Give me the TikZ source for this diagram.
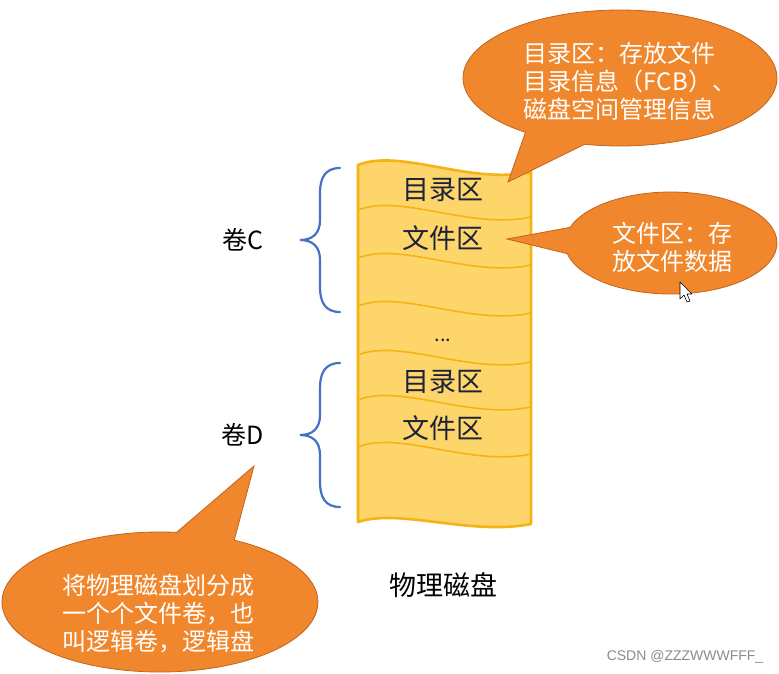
\documentclass[tikz,border=0pt]{standalone}
\usepackage{fontspec}
\setmainfont{Noto Sans CJK SC}
\newfontfamily\wmfont{Liberation Sans}
\usetikzlibrary{shapes.callouts}
\definecolor{diskfill}{HTML}{FDD56A}
\definecolor{diskline}{HTML}{F5B316}
\definecolor{bracecol}{HTML}{4472C4}
\definecolor{calfill}{HTML}{F0872D}
\definecolor{caldraw}{HTML}{C4641C}
\definecolor{disktxt}{HTML}{1C2338}
\tikzset{
  disktext/.style={text=disktxt, font=\fontsize{27}{32}\selectfont, inner sep=0pt},
  vollabel/.style={text=black, font=\fontsize{25}{30}\selectfont, inner sep=0pt},
  calbox/.style={ellipse callout, fill=calfill, draw=caldraw, line width=0.8pt, inner sep=0pt},
  caltext/.style={text=white, font=\fontsize{24}{28}\selectfont, align=left, inner sep=0pt},
  wavel/.style={draw=diskline, line width=1.6pt},
  bracestyle/.style={draw=bracecol, line width=2.2pt, line cap=round}
}
\newcommand{\wavepath}[1]{(358,#1) .. controls (400,#1-17) and (470,#1+20) .. (531,#1+7)}
\newcommand{\bracepath}[3]{% x-end, top, bottom ; tip x = end-40
  ({#1},{#2}) .. controls ({#1-15},{#2}) and ({#1-20},{#2+10}) .. ({#1-20},{#2+25})
  -- ({#1-20},{(#2+#3)/2-20}) .. controls ({#1-20},{(#2+#3)/2-6}) and ({#1-28},{(#2+#3)/2}) .. ({#1-40},{(#2+#3)/2})
  .. controls ({#1-28},{(#2+#3)/2}) and ({#1-20},{(#2+#3)/2+6}) .. ({#1-20},{(#2+#3)/2+20})
  -- ({#1-20},{#3-25}) .. controls ({#1-20},{#3-10}) and ({#1-15},{#3}) .. ({#1},{#3})}
\begin{document}
\begin{tikzpicture}[x=1pt,y=-1pt]
\useasboundingbox (0,0) rectangle (779,673);
\fill[white] (0,0) rectangle (779,673);

% disk body
\path[fill=diskfill, draw=diskline, line width=2.6pt, line join=round]
  (358,165) .. controls (400,148) and (470,185) .. (531,172)
  -- (531,524) .. controls (470,536) and (400,508) .. (358,522) -- cycle;
\foreach \yy in {210,258,306,355,400,447} {
  \draw[wavel] \wavepath{\yy};
}

% disk texts
\node[disktext] (d1) at (443,190) {目录区};
\node[disktext] (f1) at (443,238) {文件区};
\node[disktext, font=\fontsize{20}{24}\selectfont] (dots) at (443,340) {...};
\node[disktext] (d2) at (443,382) {目录区};
\node[disktext] (f2) at (443,428) {文件区};
\node[disktext, text=black] (disk) at (443,585) {物理磁盘};

% braces and volume labels
\draw[bracestyle] \bracepath{340}{168}{312};
\draw[bracestyle] \bracepath{340}{363}{507};
\node[vollabel] (volC) at (243,240) {卷C};
\node[vollabel] (volD) at (243,435) {卷D};

% callouts
\coordinate (tipA) at (508,182);
\coordinate (tipB) at (507,239);
\coordinate (tipC) at (254,466);
\node[calbox, minimum width=314pt, minimum height=136pt, callout absolute pointer={(tipA)}, callout pointer arc=24] (calA) at (620,78) {};
\node[caltext] (txtA) at (630,81) {目录区：存放文件\\目录信息（FCB）、\\磁盘空间管理信息};
\node[calbox, minimum width=212pt, minimum height=102pt, callout absolute pointer={(tipB)}, callout pointer arc=30] (calB) at (671,243) {};
\node[caltext] (txtB) at (672,247) {文件区：存\\放文件数据};
\node[calbox, minimum width=316pt, minimum height=140pt, callout absolute pointer={(tipC)}, callout pointer arc=22] (calC) at (160,602) {};
\node[caltext] (txtC) at (158,614) {将物理磁盘划分成\\一个个文件卷，也\\叫逻辑卷，逻辑盘};

% mouse cursor
\draw[fill=white, draw=black, line width=0.6pt, line join=round]
  (680,282) -- (680,299) -- (684,295) -- (687,302) -- (690,301) -- (687,294) -- (692,294) -- cycle;

% watermark
\node[text=black!45, font=\wmfont\fontsize{14}{16}\selectfont, inner sep=0pt] (wm) at (685,657) {CSDN @ZZZWWWFFF\_};
\end{tikzpicture}
\end{document}
